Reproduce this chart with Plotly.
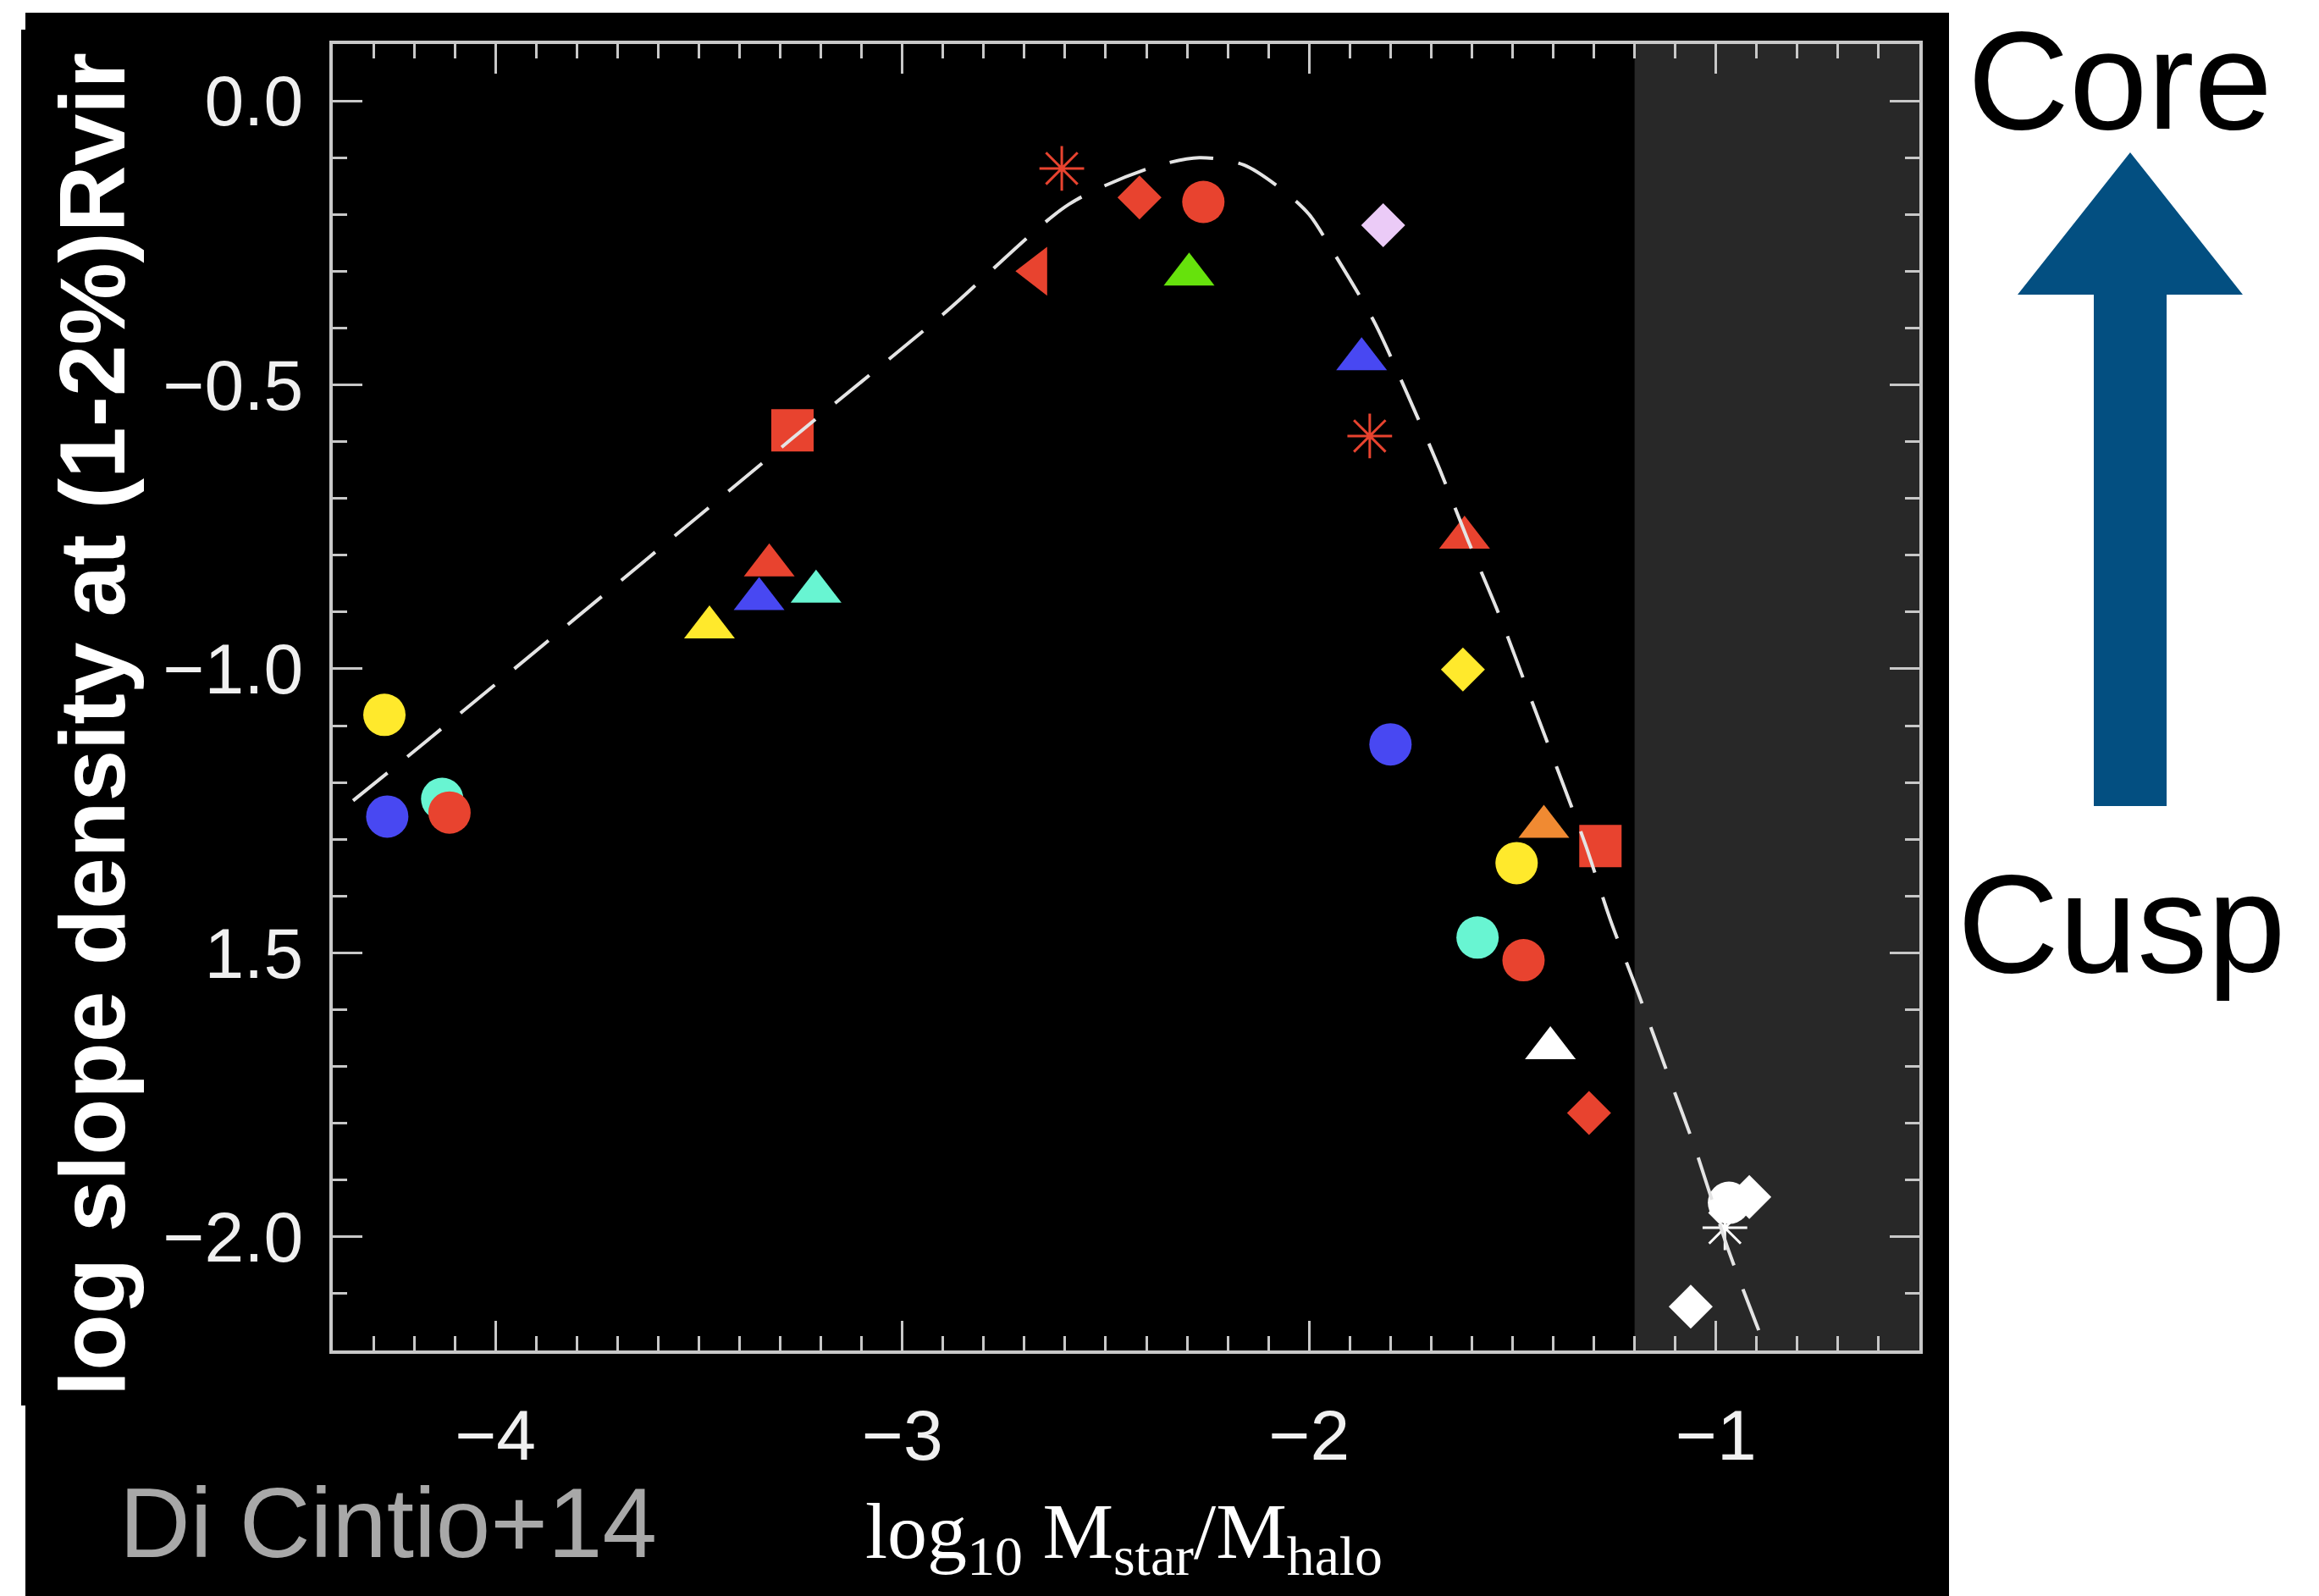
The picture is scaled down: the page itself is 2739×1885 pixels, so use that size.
import plotly.graph_objects as go

# ---------------- data ----------------
# dashed relation curve
curve_x = [-4.35, -4.20, -3.80, -3.27, -2.90, -2.59, -2.39, -2.27, -2.16, -2.06, -2.00,
           -1.94, -1.84, -1.76, -1.68, -1.61, -1.53, -1.46, -1.39, -1.32, -1.26, -1.19,
           -1.12, -1.05, -0.97, -0.90, -0.87]
curve_y = [-1.232, -1.145, -0.909, -0.594, -0.376, -0.182, -0.118, -0.100, -0.113, -0.160, -0.200,
           -0.267, -0.389, -0.514, -0.647, -0.773, -0.910, -1.043, -1.176, -1.311, -1.441, -1.573,
           -1.710, -1.847, -2.022, -2.155, -2.210]

# simulated galaxies
pt_kind = ["circle_aqua", "circle_aqua", "circle_yellow", "circle_yellow", "circle_blue", "circle_blue",
           "circle_red", "circle_red", "circle_red",
           "triangle_red", "triangle_red", "triangle_yellow", "triangle_blue", "triangle_blue",
           "triangle_aqua", "triangle_green", "triangle_orange", "triangle_white",
           "square_red", "square_red", "triangleleft_red", "asterisk_red", "asterisk_red",
           "diamond_red", "diamond_red", "diamond_lavender", "diamond_yellow",
           "diamond_white", "circle_white", "diamond_white", "asterisk_white"]
pt_x = [-4.131, -1.586, -4.273, -1.490, -4.266, -1.800,
        -4.113, -2.260, -1.473,
        -3.327, -1.618, -3.474, -3.352, -1.871,
        -3.212, -2.295, -1.423, -1.407,
        -3.270, -1.284, -2.670, -2.608, -1.851,
        -2.417, -1.312, -1.818, -1.622,
        -1.062, -0.968, -0.918, -0.978]
pt_y = [-1.229, -1.473, -1.081, -1.342, -1.260, -1.133,
        -1.253, -0.178, -1.513,
        -0.818, -0.769, -0.927, -0.877, -0.455,
        -0.864, -0.306, -1.278, -1.668,
        -0.580, -1.312, -0.300, -0.119, -0.590,
        -0.170, -1.782, -0.219, -1.001,
        -2.123, -1.940, -1.930, -1.984]

x_ticks = [-4, -3, -2, -1]
x_ticktext = ["\u22124", "\u22123", "\u22122", "\u22121"]
y_ticks = [0.0, -0.5, -1.0, -1.5, -2.0]
y_ticktext = ["0.0", "\u22120.5", "\u22121.0", "1.5", "\u22122.0"]
shade_from = -1.2

# ---------------- styles ----------------
colors = {"red": "#e8432f", "blue": "#4848f2", "yellow": "#ffe92c", "aqua": "#68f5d2",
          "green": "#66e20c", "lavender": "#ebcbf7", "orange": "#f08a32", "white": "#ffffff"}
symbols = {"circle": ("circle", 50), "triangle": ("triangle-up", 52), "square": ("square", 50),
           "triangleleft": ("triangle-left", 50), "diamond": ("diamond", 40),
           "asterisk": ("asterisk-open", 44)}

W, H = 2739, 1885
L, R, T, B = 393, 2267, 52, 1595
def px(x):
    return (x - L) / (R - L)
def py(y):
    return (B - y) / (B - T)

fig = go.Figure()

order = []
for k in pt_kind:
    if k not in order:
        order.append(k)
for kind in order:
    shape, col = kind.split("_")
    sym, size = symbols[shape]
    xs = [x for x, k in zip(pt_x, pt_kind) if k == kind]
    ys = [y for y, k in zip(pt_y, pt_kind) if k == kind]
    if sym == "asterisk-open":
        marker = dict(symbol=sym, size=size, color=colors[col],
                      line=dict(color=colors[col], width=3))
    else:
        marker = dict(symbol=sym, size=size, color=colors[col], line=dict(width=0))
    fig.add_trace(go.Scatter(x=xs, y=ys, mode="markers", marker=marker,
                             hoverinfo="skip", showlegend=False))

fig.add_trace(go.Scatter(x=curve_x, y=curve_y, mode="lines",
                         line=dict(color="#e4e4e4", width=4, dash="52px,30px",
                                   shape="spline", smoothing=0.8),
                         hoverinfo="skip", showlegend=False))

axis_col = "#c8c8c8"
tickfont = dict(family="Liberation Sans", size=84, color="#f0f0f0")
common = dict(ticks="inside", ticklen=35, tickwidth=3, tickcolor=axis_col,
              showline=True, linecolor=axis_col, linewidth=4, mirror="ticks",
              showgrid=False, zeroline=False, tickfont=tickfont, tickmode="array")

fig.update_layout(
    width=W, height=H,
    margin=dict(l=L, r=W - R, t=T, b=H - B, pad=0),
    paper_bgcolor="white", plot_bgcolor="black", showlegend=False,
    xaxis=dict(range=[-4.4, -0.5], tickvals=x_ticks, ticktext=x_ticktext,
               ticklabelstandoff=24,
               minor=dict(ticks="inside", ticklen=17, tickwidth=3, tickcolor=axis_col,
                          tickmode="linear", tick0=0, dtick=0.1, showgrid=False),
               **common),
    yaxis=dict(range=[-2.2, 0.1], tickvals=y_ticks, ticktext=y_ticktext,
               ticklabelstandoff=14,
               minor=dict(ticks="inside", ticklen=17, tickwidth=3, tickcolor=axis_col,
                          tickmode="linear", tick0=0, dtick=0.1, showgrid=False),
               **common),
)

shapes = [
    # black panel behind the figure
    dict(type="rect", xref="paper", yref="paper", x0=px(30), x1=px(2302), y0=py(15), y1=py(H),
         fillcolor="black", line=dict(width=0), layer="below"),
    dict(type="rect", xref="paper", yref="paper", x0=px(25), x1=px(200), y0=py(35), y1=py(1660),
         fillcolor="black", line=dict(width=0), layer="below"),
    # shaded region
    dict(type="rect", xref="x", yref="paper", x0=shade_from, x1=-0.5, y0=0, y1=1,
         fillcolor="#282828", line=dict(width=0), layer="below"),
]
arrow_pts = [(2516, 180), (2649, 348), (2559, 348), (2559, 952), (2473, 952), (2473, 348), (2383, 348)]
path = "M " + " L ".join(f"{px(a):.5f},{py(b):.5f}" for a, b in arrow_pts) + " Z"
shapes.append(dict(type="path", xref="paper", yref="paper", path=path,
                   fillcolor="#034f81", line=dict(width=0), layer="above"))
fig.update_layout(shapes=shapes)

ann = [
    dict(text="log slope density at (1-2%)Rvir", x=px(109), y=py(856), textangle=-90,
         yanchor="middle",
         font=dict(family="Liberation Sans", size=109, color="white", weight="bold")),
    dict(text="Di Cintio+14", x=px(458), y=py(1799), yanchor="middle",
         font=dict(family="Liberation Sans", size=116, color="#a8a8a8")),
    dict(text="log<sub>10</sub> M<sub>star</sub>/M<sub>halo</sub>", x=px(1327), y=py(1815),
         yanchor="middle",
         font=dict(family="Liberation Serif", size=94, color="white")),
    dict(text="Core", x=px(2504), y=py(1), yanchor="top",
         font=dict(family="Liberation Sans", size=166, color="black")),
    dict(text="Cusp", x=px(2506), y=py(1090), yanchor="middle",
         font=dict(family="Liberation Sans", size=166, color="black")),
]
for a in ann:
    fig.add_annotation(xref="paper", yref="paper", showarrow=False,
                       xanchor="center", borderpad=0, **a)

fig.write_html("out.html")
